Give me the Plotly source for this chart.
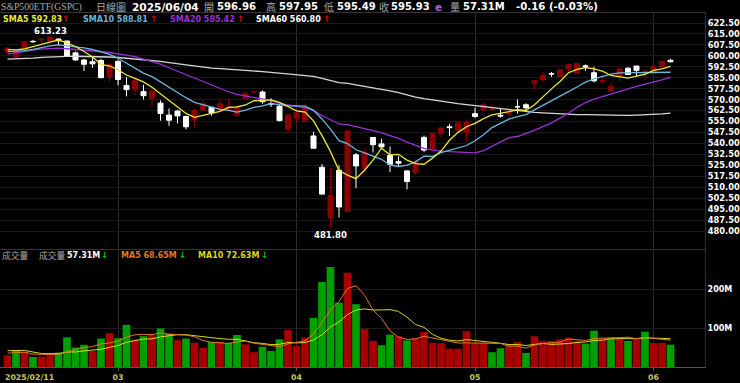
import numpy as np
import pandas as pd
import plotly.graph_objects as go
from plotly.subplots import make_subplots

W, H = 740, 383

# ---------------- data ----------------
holidays = ["2025-02-17", "2025-04-18", "2025-05-26"]
dates = [d for d in pd.bdate_range("2025-02-11", "2025-06-04")
         if d.strftime("%Y-%m-%d") not in holidays]

opens = [602.55, 599.20, 604.48, 609.94, 610.88, 610.08, 611.54, 610.16, 602.02, 597.15, 595.93, 596.85, 585.56,
         596.18, 579.71, 576.69, 575.48, 570.90, 567.59, 559.40, 562.17, 558.49, 556.11, 562.79, 564.80, 562.83,
         563.33, 559.28, 570.80, 575.30, 575.19, 567.18, 565.53, 549.83,
         557.45, 555.05, 545.11, 523.67, 489.19, 521.63, 493.44, 532.17, 523.01, 544.05, 539.67, 531.68, 527.64,
         521.16, 520.21, 544.14, 535.99, 546.65, 551.39, 548.91, 547.57,
         560.37, 562.78, 563.10, 559.31, 560.15, 565.24, 566.48, 581.47, 583.41, 587.81, 585.56, 591.25, 588.10,
         593.09, 588.44, 582.66, 575.98, 586.07, 591.54, 593.00, 588.92,
         587.76, 592.34, 596.96]
highs = [605.86, 604.55, 609.94, 610.99, 611.49, 613.23, 611.68, 610.30, 603.03, 597.89, 599.58, 598.02, 594.72,
         597.34, 585.39, 584.88, 580.17, 577.39, 569.54, 564.02, 563.11, 559.11, 563.83, 569.71, 565.02, 570.95,
         570.57, 564.89, 575.15, 576.41, 576.33, 570.90, 566.27, 560.71,
         562.94, 567.42, 547.97, 525.87, 523.17, 524.98, 548.62, 533.50, 536.43, 544.28, 543.23, 537.89, 531.17,
         521.70, 529.23, 545.43, 547.43, 551.05, 553.42, 555.45, 556.52,
         564.47, 568.24, 566.81, 564.05, 563.29, 570.15, 567.50, 583.00, 589.08, 588.97, 590.97, 594.50, 594.99,
         594.05, 592.58, 586.62, 581.82, 591.31, 592.27, 593.20, 591.13,
         592.79, 597.08, 597.95]
lows = [602.43, 598.51, 603.20, 609.07, 608.38, 609.56, 607.02, 599.47, 596.49, 589.56, 591.86, 584.65, 582.44,
        579.90, 572.25, 573.08, 570.12, 565.63, 555.59, 552.02, 553.69, 549.68, 551.49, 562.35, 559.06, 561.63,
        562.60, 558.03, 570.20, 573.69, 567.19, 564.94, 555.07, 546.87,
        553.68, 554.81, 536.70, 505.06, 481.80, 489.16, 493.06, 509.32, 520.07, 533.86, 536.90, 520.29, 523.91,
        508.46, 518.40, 533.99, 535.45, 543.69, 545.09, 548.55, 541.52,
        557.51, 561.78, 562.03, 557.71, 556.04, 560.45, 562.77, 577.04, 582.84, 585.54, 585.10, 589.28, 588.02,
        589.60, 581.82, 581.41, 575.60, 582.71, 586.98, 586.07, 583.24,
        585.06, 591.85, 595.49]
closes = [605.31, 603.36, 609.73, 609.70, 611.49, 612.93, 610.38, 599.94, 597.21, 594.24, 594.54, 585.05, 594.18,
          583.77, 576.86, 583.06, 572.71, 575.92, 560.58, 555.92, 558.87, 551.42, 562.81, 567.15, 561.02, 567.13,
          565.49, 563.98, 574.08, 575.46, 568.59, 567.08, 555.66, 559.39,
          560.97, 564.52, 536.70, 505.28, 504.38, 496.48, 548.62, 524.58, 533.94, 539.12, 537.61, 525.66, 526.41,
          513.88, 527.25, 535.42, 546.69, 550.64, 550.85, 554.32, 554.54,
          558.47, 566.76, 563.51, 558.80, 561.15, 565.06, 564.34, 582.99, 586.84, 587.59, 590.46, 594.20, 594.85,
          592.85, 582.86, 583.09, 579.11, 591.15, 587.21, 590.05, 589.39,
          592.71, 596.09, 595.93]
# closes before the first visible day (needed for the moving averages)
warmup_closes = [597.19, 593.35, 585.75, 588.15, 590.30, 590.50, 593.67, 595.51, 597.53, 600.65, 598.83, 602.55,
                 603.63, 603.91, 607.66, 606.66, 607.81, 604.68, 602.80, 607.46, 604.33, 604.21, 606.79, 604.29,
                 586.28, 586.10, 591.15, 594.69, 601.30, 601.34, 595.01, 588.22, 586.08,
                 584.64, 591.95, 595.36, 588.63, 589.49, 580.49, 581.39, 582.19, 592.78, 591.64, 597.58, 603.05,
                 606.44, 609.75, 607.97, 599.37, 603.57, 600.62, 605.04, 601.82,
                 597.77, 601.78, 604.22, 606.32, 600.77, 604.85]

volumes = [30, 43.6, 39, 25.6, 26.5, 30, 37, 76, 50, 57, 41, 73, 87,
           74, 108, 71, 79, 82, 99, 86, 69, 73, 62, 49, 64, 65, 62, 82, 58, 38, 52, 41, 71, 95,
           54, 75, 126, 218, 256.6, 165, 241.8, 161, 97, 67, 56, 83, 79, 68, 74, 90, 62, 61, 47, 47, 92,
           62, 62, 38, 48, 56, 64, 36, 79, 67, 67, 71, 75, 67, 60, 93.1, 73, 75, 75, 67, 71.7, 90.6,
           61.6, 62.0, 57.31]
warmup_volumes = [37, 39, 67, 65, 33, 36, 35, 50, 27]

price_ticks = [480 + 7.5 * k for k in range(20)]
vol_ticks = [100, 200]
vol_tick_text = ["100M", "200M"]

# ---------------- derived ----------------
n = len(closes)
x = np.arange(n)
all_c = pd.Series(warmup_closes + closes)
nw = len(warmup_closes)
sma = {p: all_c.rolling(p).mean().values[nw:] for p in (5, 10, 20, 60)}
all_v = pd.Series(warmup_volumes + volumes)
nv = len(warmup_volumes)
vma5 = all_v.rolling(5).mean().values[nv:]
vma10 = all_v.rolling(10).mean().values[nv:]
prev_c = [warmup_closes[-1]] + closes[:-1]
RED_C = "#8c0000"
VRED = "#a80000"
VGREEN = "#00a000"
vcolors = [VRED if c >= p else VGREEN for c, p in zip(closes, prev_c)]

month_idx = [i for i in range(1, n) if dates[i].month != dates[i - 1].month]
month_txt = [dates[i].strftime("%m") for i in month_idx]

# ---------------- figure ----------------
fig = make_subplots(rows=2, cols=1, shared_xaxes=True, vertical_spacing=0)

fig.add_trace(go.Candlestick(
    x=x, open=opens, high=highs, low=lows, close=closes,
    increasing=dict(line=dict(color=RED_C, width=1), fillcolor=RED_C),
    decreasing=dict(line=dict(color="#ffffff", width=1), fillcolor="#ffffff"),
    whiskerwidth=0, hoverinfo="skip", showlegend=False), row=1, col=1)

ma_cols = {5: "#e8e830", 10: "#6cb6dc", 20: "#9a30d8", 60: "#d8d8d8"}
for p in (60, 20, 10, 5):
    fig.add_trace(go.Scatter(x=x, y=sma[p], mode="lines", line=dict(color=ma_cols[p], width=1.3),
                             hoverinfo="skip", showlegend=False), row=1, col=1)

fig.add_trace(go.Bar(x=x, y=volumes, marker=dict(color=vcolors, line=dict(width=0)), width=0.9,
                     hoverinfo="skip", showlegend=False), row=2, col=1)
fig.add_trace(go.Scatter(x=x, y=vma10, mode="lines", line=dict(color="#d8d820", width=1),
                         hoverinfo="skip", showlegend=False), row=2, col=1)
fig.add_trace(go.Scatter(x=x, y=vma5, mode="lines", line=dict(color="#e07828", width=1),
                         hoverinfo="skip", showlegend=False), row=2, col=1)

NUM = "DejaVu Sans"
CJK = "Noto Sans CJK TC"
GRAY = "#a8a8a8"
ann = []


def txt(px, py, s, color, size, bold=True, family=NUM, anchor="left"):
    ann.append(dict(x=px / W, y=1 - py / H, xref="paper", yref="paper", text=s, showarrow=False,
                    xanchor=anchor, yanchor="middle", borderpad=0,
                    font=dict(color=color, size=size, family=family,
                              weight="bold" if bold else "normal")))


# header row 1
txt(0, 7, "S&P500ETF(GSPC)", GRAY, 9.7, bold=False, family="Liberation Serif")
txt(95, 7, "日線圖", GRAY, 10, bold=False, family=CJK)
txt(131, 7, "2025/06/04", "#ffffff", 10.6)
txt(203, 7, "開", GRAY, 10, bold=False, family=CJK)
txt(216, 7, "596.96", "#ffffff", 10.1)
txt(265, 7, "高", GRAY, 10, bold=False, family=CJK)
txt(278, 7, "597.95", "#ffffff", 10.1)
txt(323, 7, "低", GRAY, 10, bold=False, family=CJK)
txt(336, 7, "595.49", "#ffffff", 10)
txt(378, 7, "收", GRAY, 10, bold=False, family=CJK)
txt(390, 7, "595.93", "#ffffff", 10)
txt(434, 7, "e", "#9a6ad8", 10.5)
txt(449, 7, "量", GRAY, 10, bold=False, family=CJK)
txt(462, 7, "57.31M", "#ffffff", 10)
txt(515, 7, "-0.16 (-0.03%)", "#ffffff", 10.2)

# header row 2
txt(2, 19, "SMA5 592.83", ma_cols[5], 8)
txt(61, 19, "↑", "#e00000", 9)
txt(82, 19, "SMA10 588.81", ma_cols[10], 8)
txt(149, 19, "↑", "#e00000", 9)
txt(169, 19, "SMA20 585.42", ma_cols[20], 8)
txt(236, 19, "↑", "#e00000", 9)
txt(255, 19, "SMA60 560.80", "#ffffff", 8)
txt(322, 19, "↑", "#e00000", 9)

# volume legend
txt(1, 255, "成交量", GRAY, 8.7, bold=False, family=CJK)
txt(38, 255, "成交量", GRAY, 8.7, bold=False, family=CJK)
txt(66, 255, "57.31M", "#ffffff", 8)
txt(100, 255, "↓", "#00c000", 9)
txt(120, 255, "MA5 68.65M", "#e07828", 8)
txt(178, 255, "↓", "#00c000", 9)
txt(197, 255, "MA10 72.63M", "#d8d820", 8)
txt(260, 255, "↓", "#00c000", 9)

# first date label
txt(4, 377, dates[0].strftime("%Y/%m/%d"), "#c8c860", 7.8)

# extreme labels
imax = int(np.argmax(highs))
imin = int(np.argmin(lows))
ann.append(dict(x=imax, y=highs[imax], xref="x", yref="y", text=f"{highs[imax]:.2f}", showarrow=False,
                xanchor="center", yanchor="bottom", yshift=0, borderpad=0,
                font=dict(color="#ffffff", size=8.5, family=NUM, weight="bold")))
ann.append(dict(x=imin, y=lows[imin], xref="x", yref="y", text=f"{lows[imin]:.2f}", showarrow=False,
                xanchor="center", yanchor="top", yshift=-1, borderpad=0,
                font=dict(color="#ffffff", size=8.5, family=NUM, weight="bold")))

xr = [-7.5 / 8.5, (705 - 7.5) / 8.5]
ydom_top = [1 - 249 / H, 1 - 13 / H]
ydom_bot = [1 - 367 / H, 1 - 249 / H]
ppu = 208 / 142.5
yr = [480 - (249 - 231) / ppu, 622.5 + (23 - 13) / ppu]
vr = [0, (367 - 249) / 0.39]

fig.update_layout(
    width=W, height=H, margin=dict(l=0, r=0, t=0, b=0),
    paper_bgcolor="#000000", plot_bgcolor="#000000",
    boxgap=0.16, bargap=0.1, showlegend=False,
    annotations=ann,
    xaxis=dict(domain=[0, 705 / W], range=xr, showgrid=True, gridcolor="#2c2c2c", gridwidth=1,
               tickvals=month_idx, showticklabels=False, zeroline=False,
               showline=True, linecolor="#3a3232", mirror=True, rangeslider=dict(visible=False)),
    xaxis2=dict(domain=[0, 705 / W], range=xr, showgrid=True, gridcolor="#2c2c2c", gridwidth=1,
                tickvals=month_idx, ticktext=month_txt, zeroline=False,
                ticks="outside", ticklen=3, tickcolor="#555555",
                tickfont=dict(color="#c8c860", size=7.8, family=NUM, weight="bold"),
                showline=True, linecolor="#555555", rangeslider=dict(visible=False)),
    yaxis=dict(domain=ydom_top, range=yr, side="right", tickvals=price_ticks,
               ticktext=[f"{v:.2f}" for v in price_ticks], showgrid=True, gridcolor="#1a1a1a",
               zeroline=False, showline=True, linecolor="#3a2828", ticks="",
               tickfont=dict(color="#ffffff", size=8.3, family=NUM, weight="bold")),
    yaxis2=dict(domain=ydom_bot, range=vr, side="right", tickvals=vol_ticks, ticktext=vol_tick_text,
                showgrid=True, gridcolor="#1e1e1e", zeroline=False, showline=True, linecolor="#3a2828",
                ticks="", tickfont=dict(color="#ffffff", size=8, family=NUM, weight="bold")),
)

fig.write_html("out.html")
